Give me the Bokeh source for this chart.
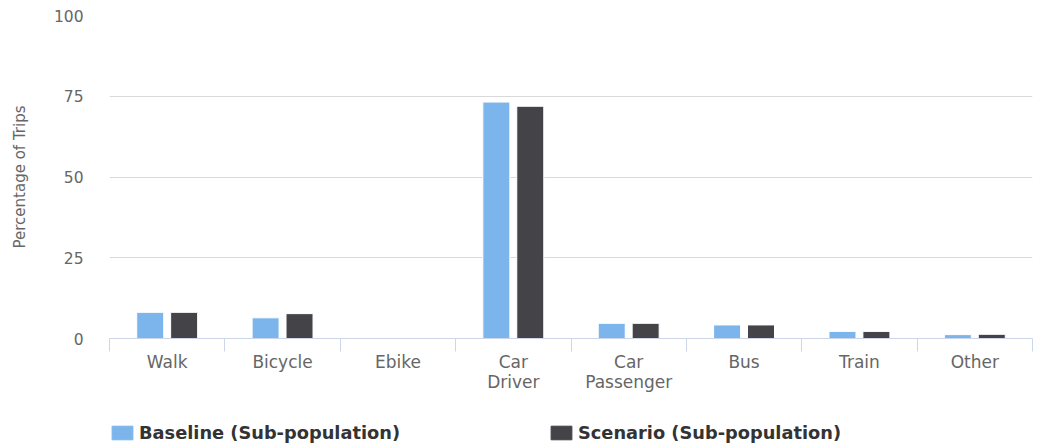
import numpy as np
from bokeh.plotting import figure
from bokeh.layouts import column
from bokeh.models import Range1d, FixedTicker, Legend, LegendItem, ColumnDataSource
from bokeh.embed import file_html
from bokeh.resources import INLINE

categories = ["Walk", "Bicycle", "Ebike", "Car\nDriver", "Car\nPassenger", "Bus", "Train", "Other"]
baseline = [8.1, 6.4, 0.0, 73.2, 4.7, 4.2, 2.2, 1.2]
scenario = [8.1, 7.7, 0.0, 71.9, 4.7, 4.2, 2.2, 1.3]
y_ticks = [0, 25, 50, 75, 100]
series_names = ["Baseline (Sub-population)", "Scenario (Sub-population)"]
colors = ["#7cb5ec", "#434348"]

FONT = "DejaVu Sans"
idx = np.arange(len(categories))
centers = idx + 0.5
bar_w = 0.234
offsets = [-0.147, 0.147]

p = figure(width=1040, height=400, output_backend="svg", toolbar_location=None,
           x_range=Range1d(0, len(categories)), y_range=Range1d(0, 100),
           min_border_left=109, min_border_right=8, min_border_top=15, min_border_bottom=62)
p.outline_line_color = None

sources = []
for vals, off, col in zip([baseline, scenario], offsets, colors):
    src = ColumnDataSource(dict(x=centers + off, top=vals))
    sources.append(src)
    p.vbar(x="x", top="top", bottom=0, width=bar_w, source=src,
           fill_color=col, line_color="white", line_width=1)

# x axis
xa = p.xaxis[0]
xa.ticker = FixedTicker(ticks=list(centers), minor_ticks=list(np.arange(len(categories) + 1)))
xa.major_label_overrides = {float(c): lab for c, lab in zip(centers, categories)}
xa.major_tick_line_color = None
xa.major_tick_out = 0
xa.major_tick_in = 0
xa.minor_tick_line_color = "#ccd6eb"
xa.minor_tick_out = 13
xa.minor_tick_in = 0
xa.axis_line_color = "#ccd6eb"
xa.major_label_standoff = 0
xa.major_label_text_font = FONT
xa.major_label_text_font_size = "17px"
xa.major_label_text_color = "#666666"
xa.major_label_text_line_height = 1.0
p.xgrid.grid_line_color = None

# y axis
ya = p.yaxis[0]
ya.ticker = FixedTicker(ticks=y_ticks)
ya.axis_line_color = None
ya.major_tick_line_color = None
ya.minor_tick_line_color = None
ya.major_tick_out = 0
ya.major_label_standoff = 26
ya.major_label_text_font = FONT
ya.major_label_text_font_size = "15.5px"
ya.major_label_text_color = "#666666"
ya.axis_label = "Percentage of Trips"
ya.axis_label_text_font = FONT
ya.axis_label_text_font_size = "15px"
ya.axis_label_text_font_style = "normal"
ya.axis_label_text_color = "#666666"
ya.axis_label_standoff = 22
p.ygrid.grid_line_color = "#d9d9d9"
p.ygrid.ticker = FixedTicker(ticks=y_ticks)

# legend strip (bars here fall outside its y range; only the legend shows)
lg = figure(width=1040, height=47, output_backend="svg", toolbar_location=None,
            x_axis_type=None, y_axis_type=None,
            x_range=Range1d(0, len(categories)), y_range=Range1d(1000, 1001),
            min_border_left=0, min_border_right=8, min_border_top=0, min_border_bottom=0)
lg.outline_line_color = None
lg.xgrid.grid_line_color = None
lg.ygrid.grid_line_color = None
legend_renderers = []
for src, col in zip(sources, colors):
    r = lg.vbar(x="x", top="top", bottom=0, width=bar_w, source=src,
                fill_color=col, line_color=col, line_width=1)
    legend_renderers.append(r)

legend = Legend(items=[LegendItem(label=n, renderers=[r]) for n, r in zip(series_names, legend_renderers)],
                orientation="horizontal", location=(0, 4),
                glyph_width=26, glyph_height=17, label_height=17, label_standoff=4,
                label_width=380, spacing=29, padding=0, margin=0,
                border_line_color=None, background_fill_alpha=0,
                label_text_font=FONT, label_text_font_size="17.8px",
                label_text_font_style="bold", label_text_color="#333333")
lg.add_layout(legend, "center")

layout = column(p, lg)
open("out.html", "w").write(file_html(layout, INLINE))
